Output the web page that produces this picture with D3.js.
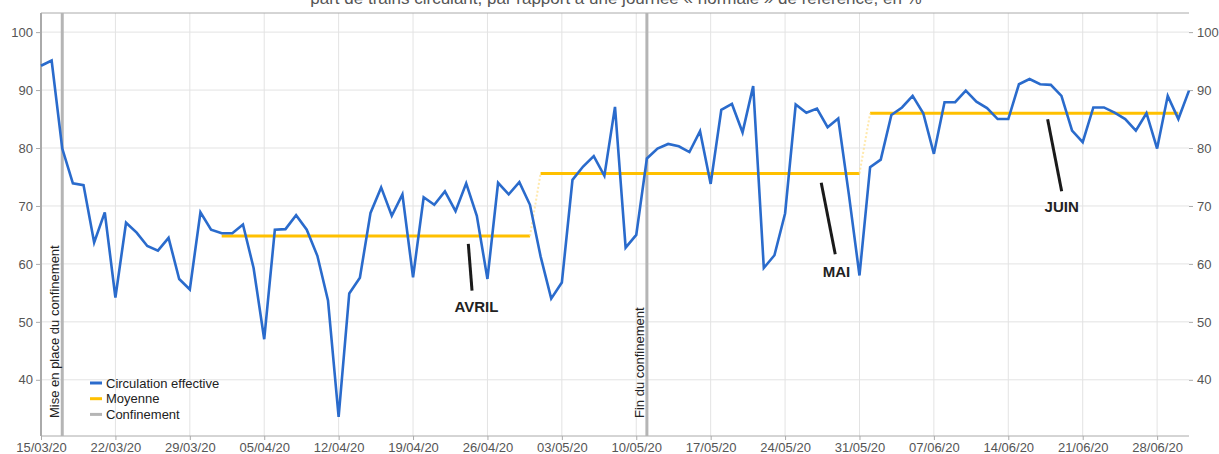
<!DOCTYPE html>
<html>
<head>
<meta charset="utf-8">
<script src="https://cdn.jsdelivr.net/npm/d3@7"></script>
<style>
  body { margin: 0; background: #fff; }
  svg { display: block; font-family: "Liberation Sans", Arial, sans-serif; }
  .tick text { fill: #555; font-size: 13px; }
  .tick line { stroke: #aaa; }
</style>
</head>
<body>
<svg width="1219" height="454"></svg>
<script>
// data
const startDate = new Date(2020, 2, 15);
const values = [
  94.2, 95.1, 79.9, 73.9, 73.6, 63.7, 68.9, 54.2, 67.1, 65.4, 63.1, 62.3, 64.5, 57.4, 55.6, 68.9, 65.9,
  65.3, 65.3, 66.8, 59.3, 47.0, 65.9, 66.0, 68.4, 65.9, 61.4, 53.7, 33.6, 54.9, 57.6, 68.8, 73.2, 68.3,
  72.0, 57.7, 71.5, 70.2, 72.5, 69.1, 73.9, 68.3, 57.4, 74.0, 72.0, 74.1, 70.2,
  61.3, 54.0, 56.8, 74.5, 76.8, 78.6, 75.2, 87.1, 62.8, 65.0, 78.2, 79.9, 80.7, 80.3, 79.3, 82.9, 73.8,
  86.6, 87.6, 82.7, 90.7, 59.3, 61.5, 68.7, 87.5, 86.1, 86.8, 83.6, 85.1, 72.0, 58.0,
  76.7, 78.0, 85.7, 87.0, 89.0, 86.0, 79.0, 87.9, 87.9, 89.9, 88.0, 86.9, 85.0, 85.0, 91.0, 91.9, 91.0,
  90.9, 89.0, 83.0, 81.0, 87.0, 87.0, 86.1, 85.0, 83.0, 86.0, 79.9, 89.0, 85.0, 89.9
];
const dates = values.map((v, i) => d3.timeDay.offset(startDate, i));

const monthStarts = ['2020-04-01', '2020-05-01', '2020-06-01'];
const monthEnds = ['2020-04-30', '2020-05-31', '2020-06-30'];
const monthMeans = [64.8, 75.6, 86.0];

const events = ['2020-03-17', '2020-05-11'];
const eventLabels = ['Mise en place du confinement', 'Fin du confinement'];

// annotations: [day offset, value] for line start/end and label
const annoLabels = ['AVRIL', 'MAI', 'JUIN'];
const annoFrom = [[40.2, 63.45], [73.4, 74.0], [94.7, 84.95]];
const annoTo = [[40.55, 55.4], [74.72, 61.67], [96.02, 72.53]];
const annoText = [[40.97, 51.7], [74.83, 57.76], [96.02, 68.88]];

const yTicks = [40, 50, 60, 70, 80, 90, 100];
const legendLabels = ['Circulation effective', 'Moyenne', 'Confinement'];
const legendColors = ['#2a6bcc', '#ffc000', '#b5b5b5'];
const title = 'part de trains circulant, par rapport à une journée « normale » de référence, en %';

const parse = d3.timeParse('%Y-%m-%d');
const svg = d3.select('svg');
const margin = { top: 13, right: 30, bottom: 18, left: 41 };
const width = +svg.attr('width');
const height = +svg.attr('height');

const xScale = d3.scaleTime()
  .domain([startDate, d3.timeDay.offset(startDate, 108)])
  .range([margin.left, width - margin.right]);
const yScale = d3.scaleLinear()
  .domain([30.3, 103.3])
  .range([height - margin.bottom, margin.top]);
const dayX = d => xScale(startDate) + d * (xScale(dates[1]) - xScale(dates[0]));

const weekTicks = d3.range(0, 106, 7).map(d => d3.timeDay.offset(startDate, d));

// grid
svg.append('g').selectAll('line').data(weekTicks).join('line')
  .attr('x1', d => xScale(d)).attr('x2', d => xScale(d))
  .attr('y1', margin.top).attr('y2', height - margin.bottom)
  .attr('stroke', '#e3e3e3');
svg.append('g').selectAll('line').data(yTicks).join('line')
  .attr('x1', margin.left).attr('x2', width - margin.right)
  .attr('y1', d => yScale(d)).attr('y2', d => yScale(d))
  .attr('stroke', '#e3e3e3');

// title (cropped at the top, as in the source)
svg.append('text')
  .attr('x', 616).attr('y', 3.5)
  .attr('text-anchor', 'middle')
  .attr('fill', '#555')
  .style('font-size', '17px')
  .text(title);

// frame
svg.append('line')
  .attr('x1', margin.left).attr('x2', width - margin.right)
  .attr('y1', margin.top).attr('y2', margin.top).attr('stroke', '#aaa');
svg.append('line')
  .attr('x1', margin.left).attr('x2', width - margin.right)
  .attr('y1', height - margin.bottom).attr('y2', height - margin.bottom).attr('stroke', '#aaa');
svg.append('line')
  .attr('x1', margin.left).attr('x2', margin.left)
  .attr('y1', margin.top).attr('y2', height - margin.bottom).attr('stroke', '#aaa').attr('stroke-width', 2);

// axes
const yAxisL = d3.axisLeft(yScale).tickValues(yTicks).tickSize(5).tickPadding(3);
svg.append('g').attr('transform', `translate(${margin.left},0)`).call(yAxisL)
  .call(g => g.select('.domain').remove());
const yAxisR = d3.axisRight(yScale).tickValues(yTicks).tickSize(4).tickPadding(4);
svg.append('g').attr('transform', `translate(${width - margin.right},0)`).call(yAxisR)
  .call(g => g.select('.domain').remove());
const xAxis = d3.axisBottom(xScale).tickValues(weekTicks).tickFormat(d3.timeFormat('%d/%m/%y'))
  .tickSize(4).tickPadding(3);
svg.append('g').attr('transform', `translate(0,${height - margin.bottom})`).call(xAxis)
  .call(g => g.select('.domain').remove());

// confinement lines
events.forEach((e, i) => {
  const x = xScale(parse(e));
  svg.append('line')
    .attr('x1', x).attr('x2', x)
    .attr('y1', margin.top).attr('y2', height - margin.bottom)
    .attr('stroke', '#b5b5b5').attr('stroke-width', 3);
  svg.append('text')
    .attr('transform', `translate(${x - 3},418) rotate(-90)`)
    .attr('fill', '#222')
    .style('font-size', '13px')
    .text(eventLabels[i]);
});

// monthly means
monthMeans.forEach((m, i) => {
  svg.append('line')
    .attr('x1', xScale(parse(monthStarts[i]))).attr('x2', xScale(parse(monthEnds[i])))
    .attr('y1', yScale(m)).attr('y2', yScale(m))
    .attr('stroke', '#ffc000').attr('stroke-width', 3);
  if (i > 0) {
    svg.append('line')
      .attr('x1', xScale(parse(monthEnds[i - 1]))).attr('x2', xScale(parse(monthStarts[i])))
      .attr('y1', yScale(monthMeans[i - 1])).attr('y2', yScale(m))
      .attr('stroke', '#ffe08a').attr('stroke-width', 2)
      .attr('stroke-dasharray', '2,2').attr('opacity', 0.7);
  }
});

// effective circulation
const line = d3.line()
  .x((d, i) => xScale(dates[i]))
  .y(d => yScale(d));
svg.append('path')
  .attr('d', line(values))
  .attr('fill', 'none')
  .attr('stroke', '#2a6bcc')
  .attr('stroke-width', 2.6);

// month annotations
annoLabels.forEach((t, i) => {
  svg.append('line')
    .attr('x1', dayX(annoFrom[i][0])).attr('y1', yScale(annoFrom[i][1]))
    .attr('x2', dayX(annoTo[i][0])).attr('y2', yScale(annoTo[i][1]))
    .attr('stroke', '#1a1a1a').attr('stroke-width', 3);
  svg.append('text')
    .attr('x', dayX(annoText[i][0])).attr('y', yScale(annoText[i][1]))
    .attr('text-anchor', 'middle')
    .attr('fill', '#222')
    .style('font-size', '15px').style('font-weight', 'bold')
    .text(t);
});

// legend
const legend = svg.append('g').attr('transform', 'translate(90,383)');
legendLabels.forEach((l, i) => {
  legend.append('line')
    .attr('x1', 0).attr('x2', 12)
    .attr('y1', i * 15.7).attr('y2', i * 15.7)
    .attr('stroke', legendColors[i]).attr('stroke-width', 3);
  legend.append('text')
    .attr('x', 16).attr('y', i * 15.7 + 4.5)
    .attr('fill', '#222')
    .style('font-size', '13px')
    .text(l);
});
</script>
</body>
</html>
